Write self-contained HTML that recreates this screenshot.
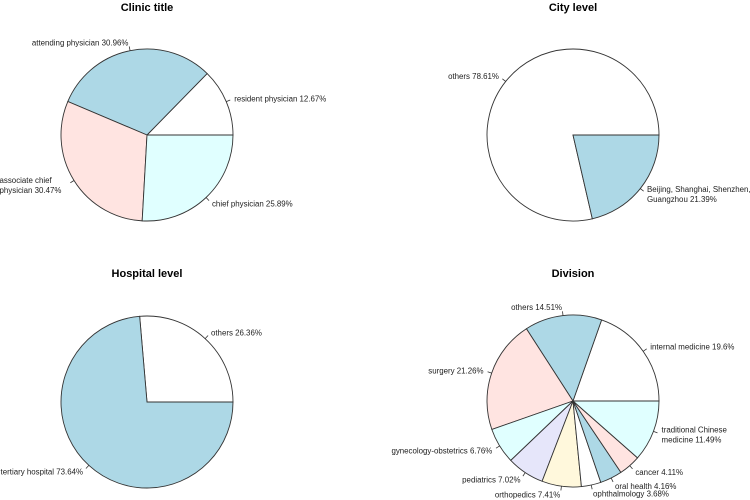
<!DOCTYPE html>
<html><head><meta charset="utf-8"><style>
body{margin:0;background:#fff}
svg{display:block;font-family:"Liberation Sans",Arial,sans-serif}
</style></head><body>
<svg id="c" width="750" height="500" viewBox="0 0 750 500"></svg>
<script>
const clinicLabels=["resident physician 12.67%","attending physician 30.96%","associate chief\nphysician 30.47%","chief physician 25.89%"];
const clinicValues=[12.67,30.96,30.47,25.89];
const cityLabels=["others 78.61%","Beijing, Shanghai, Shenzhen,\nGuangzhou 21.39%"];
const cityValues=[78.61,21.39];
const hospitalLabels=["others 26.36%","tertiary hospital 73.64%"];
const hospitalValues=[26.36,73.64];
const divisionLabels=["internal medicine 19.6%","others 14.51%","surgery 21.26%","gynecology-obstetrics 6.76%","pediatrics 7.02%","orthopedics 7.41%","ophthalmology 3.68%","oral health 4.16%","cancer 4.11%","traditional Chinese\nmedicine 11.49%"];
const divisionValues=[19.6,14.51,21.26,6.76,7.02,7.41,3.68,4.16,4.11,11.49];
const palette=["#ffffff","#add8e6","#ffe4e1","#e0ffff","#e6e6fa","#fff8dc"];
const NS="http://www.w3.org/2000/svg";
const svg=document.getElementById('c');
function mk(t,a,p){const e=document.createElementNS(NS,t);for(const k in a)e.setAttribute(k,a[k]);(p||svg).appendChild(e);return e;}
function pie(title,name,labels,values,cx,cy,ty){
  const R=86;
  const g=mk('g',{});
  
  
  const t=mk('text',{x:cx,y:ty+5,'text-anchor':'middle','font-size':'11','font-weight':'bold',fill:'#000'},g);
  t.textContent=title;
  
  
  const tot=values.reduce((a,b)=>a+b,0);
  let acc=0;
  values.forEach((v,i)=>{
    const a0=acc/tot*2*Math.PI; acc+=v; const a1=acc/tot*2*Math.PI;
    const x0=cx+R*Math.cos(a0),y0=cy-R*Math.sin(a0),x1=cx+R*Math.cos(a1),y1=cy-R*Math.sin(a1);
    const large=(a1-a0)>Math.PI?1:0;
    const p=mk('path',{d:`M${cx},${cy}L${x0},${y0}A${R},${R} 0 ${large} 0 ${x1},${y1}Z`,fill:palette[i%palette.length],stroke:'#333','stroke-width':'0.9'},g);
    
    
    const m=(a0+a1)/2,c=Math.cos(m),s=Math.sin(m);
    mk('line',{x1:cx+R*c,y1:cy-R*s,x2:cx+R*1.05*c,y2:cy-R*1.05*s,stroke:'#333','stroke-width':'0.8'},g);
    const lx=cx+R*1.1*c,ly=cy-R*1.1*s;
    const lines=labels[i].split('\n');
    const tx=mk('text',{x:lx,'text-anchor':c>0?'start':'end','font-size':'7.9',fill:'#222'},g);
    
    
    const w=lines.length>1?Math.max(...lines.map(l=>l.length))*4.2:0;
    lines.forEach((ln,k)=>{
      const xx=(lines.length>1&&c<0)?lx-w:lx;
      const ts=mk('tspan',{x:xx,y:ly+3+(k-(lines.length-1)/2)*10},tx);
      if(lines.length>1&&c<0)ts.setAttribute('text-anchor','start');
      ts.textContent=ln;});
    if(lines.length>1&&c<0)tx.setAttribute('text-anchor','start');
  });
}
pie("Clinic title","clinic",clinicLabels,clinicValues,147,135,6);
pie("City level","city",cityLabels,cityValues,573,135,6);
pie("Hospital level","hospital",hospitalLabels,hospitalValues,147,402,272);
pie("Division","division",divisionLabels,divisionValues,573,401,272);
</script>
</body></html>
